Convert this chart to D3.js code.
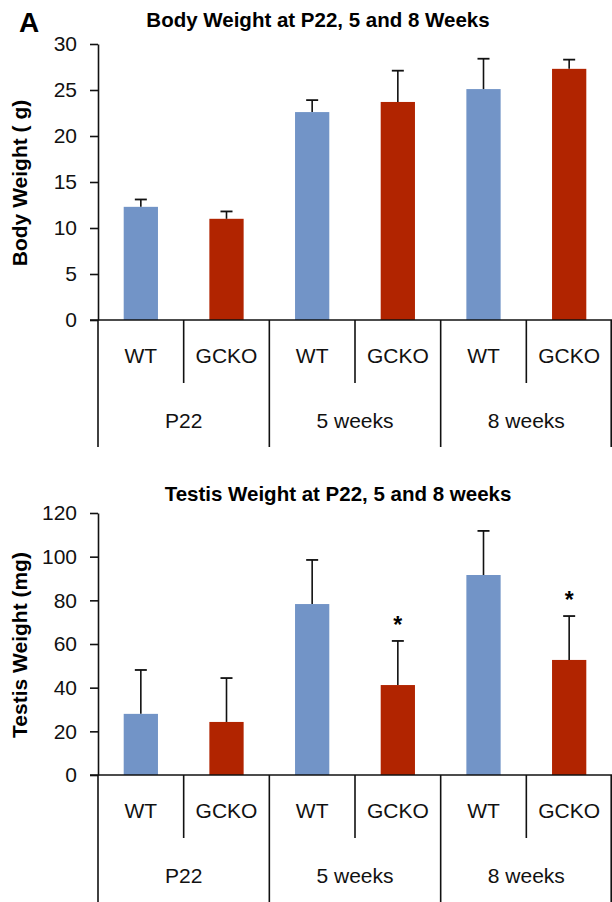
<!DOCTYPE html>
<html>
<head>
<meta charset="utf-8">
<script src="https://cdn.jsdelivr.net/npm/d3@7"></script>
<style>
  html, body { margin: 0; padding: 0; background: #fff; }
  svg { display: block; font-family: "Liberation Sans", Arial, sans-serif; }
</style>
</head>
<body>
<svg id="chart" width="612" height="902"></svg>
<script>
// categories
const groups = ["P22", "5 weeks", "8 weeks"]
const genotypes = ["WT", "GCKO"]

// body weight (g), mean and error bar
const bodyMean = [12.3, 11.0, 22.6, 23.7, 25.1, 27.3]
const bodyErr  = [0.8, 0.8, 1.3, 3.4, 3.3, 1.0]
const bodyTicks = [0, 5, 10, 15, 20, 25, 30]

// testis weight (mg), mean and error bar, significance
const testisMean = [28.0, 24.3, 78.3, 41.2, 91.6, 52.7]
const testisErr  = [20.1, 20.1, 20.2, 20.2, 20.2, 20.1]
const testisStar = [false, false, false, true, false, true]
const testisTicks = [0, 20, 40, 60, 80, 100, 120]

const colors = { WT: "#7294c7", GCKO: "#b12400" }
const ink = "#111"

const svg = d3.select("#chart")

svg.append("text")
    .attr("x", 19).attr("y", 32)
    .style("font-size", "28px").style("font-weight", "bold")
    .text("A")

function drawPanel(opt) {
    const left = 98, right = 612
    const g = svg.append("g")

    const cats = []
    groups.forEach(gr => genotypes.forEach(gt => cats.push({ group: gr, geno: gt })))

    const x = d3.scaleBand().domain(d3.range(cats.length)).range([left, right]).padding(0)
    const y = d3.scaleLinear().domain([0, opt.max]).range([opt.bottom, opt.top])
    const barW = x.bandwidth() * 0.4

    // title
    g.append("text")
        .attr("x", opt.titleX).attr("y", opt.titleY)
        .attr("text-anchor", "middle")
        .style("font-size", "20.5px").style("font-weight", "bold")
        .text(opt.title)

    // y label
    g.append("text")
        .attr("transform", "translate(27," + opt.labelY + ") rotate(-90)")
        .attr("text-anchor", "middle")
        .style("font-size", "21px").style("font-weight", "bold")
        .text(opt.yLabel)

    // y axis
    const ax = g.append("g")
        .attr("transform", "translate(" + left + ",0)")
        .call(d3.axisLeft(y).tickValues(opt.ticks).tickSize(8).tickSizeOuter(0).tickPadding(13))
    ax.select(".domain").attr("stroke", ink).attr("stroke-width", 1.6)
    ax.selectAll(".tick line").attr("stroke", ink).attr("stroke-width", 1.6)
    ax.selectAll(".tick text")
        .attr("fill", ink)
        .style("font-size", "21px")
        .style("font-family", "'Liberation Sans', Arial, sans-serif")

    // bars
    g.selectAll("rect.bar")
        .data(opt.mean)
        .enter()
        .append("rect")
            .attr("x", (d, i) => x(i) + (x.bandwidth() - barW) / 2)
            .attr("y", d => y(d))
            .attr("width", barW)
            .attr("height", d => y(0) - y(d))
            .attr("fill", (d, i) => colors[cats[i].geno])

    // error bars
    const cx = i => x(i) + x.bandwidth() / 2
    opt.mean.forEach((m, i) => {
        g.append("line")
            .attr("x1", cx(i)).attr("x2", cx(i))
            .attr("y1", y(m)).attr("y2", y(m + opt.err[i]))
            .attr("stroke", ink).attr("stroke-width", 1.6)
        g.append("line")
            .attr("x1", cx(i) - 6).attr("x2", cx(i) + 6)
            .attr("y1", y(m + opt.err[i])).attr("y2", y(m + opt.err[i]))
            .attr("stroke", ink).attr("stroke-width", 1.8)
        if (opt.star && opt.star[i]) {
            g.append("text")
                .attr("x", cx(i)).attr("y", y(m + opt.err[i]) - 8)
                .attr("text-anchor", "middle")
                .style("font-size", "23px").style("font-weight", "bold")
                .text("*")
        }
    })

    // category axis
    g.append("line")
        .attr("x1", left - 8).attr("x2", right)
        .attr("y1", y(0)).attr("y2", y(0))
        .attr("stroke", ink).attr("stroke-width", 1.6)

    // dividers and genotype labels
    cats.forEach((c, i) => {
        const isGroupEdge = i % 2 == 0
        g.append("line")
            .attr("x1", x(i)).attr("x2", x(i))
            .attr("y1", y(0))
            .attr("y2", isGroupEdge ? opt.longEnd : y(0) + 63)
            .attr("stroke", ink).attr("stroke-width", 1.6)
        g.append("text")
            .attr("x", cx(i)).attr("y", y(0) + 43)
            .attr("text-anchor", "middle")
            .attr("fill", ink)
            .style("font-size", "21px")
            .text(c.geno)
    })
    g.append("line")
        .attr("x1", right - 0.8).attr("x2", right - 0.8)
        .attr("y1", y(0)).attr("y2", opt.longEnd)
        .attr("stroke", ink).attr("stroke-width", 1.6)

    groups.forEach((gr, k) => {
        const gx = (x(k * 2) + x(k * 2 + 1) + x.bandwidth()) / 2
        g.append("text")
            .attr("x", gx).attr("y", y(0) + 108)
            .attr("text-anchor", "middle")
            .attr("fill", ink)
            .style("font-size", "21px")
            .text(gr)
    })
}

drawPanel({
    title: "Body Weight at P22, 5 and 8 Weeks",
    titleX: 318, titleY: 27,
    yLabel: "Body Weight ( g)", labelY: 183,
    mean: bodyMean, err: bodyErr, ticks: bodyTicks, max: 30,
    top: 44, bottom: 320, longEnd: 447
})

drawPanel({
    title: "Testis Weight at P22, 5 and 8 weeks",
    titleX: 338, titleY: 501,
    yLabel: "Testis Weight (mg)", labelY: 645,
    mean: testisMean, err: testisErr, star: testisStar, ticks: testisTicks, max: 120,
    top: 513, bottom: 775, longEnd: 902
})
</script>
</body>
</html>
